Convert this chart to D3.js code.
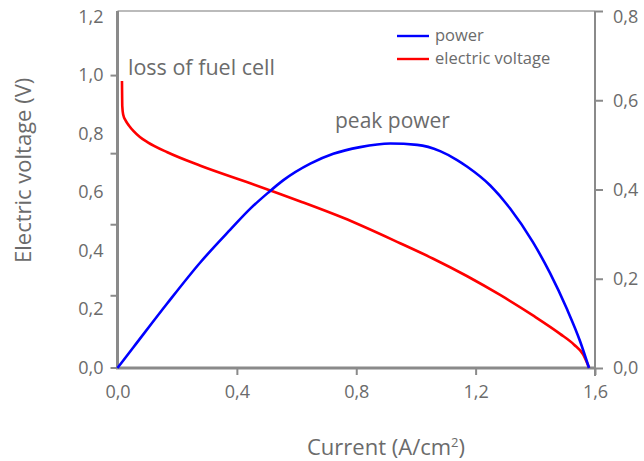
<!DOCTYPE html>
<html>
<head>
<meta charset="utf-8">
<script src="https://cdn.jsdelivr.net/npm/d3@7"></script>
<style>
  body { margin: 0; background: #fff; }
  text { font-family: "Open Sans", sans-serif; fill: #6b6b6b; }
</style>
</head>
<body>
<script>
// current density (A/cm2) and cell voltage (V)
var voltCurrent = [0.015, 0.0155, 0.016, 0.019, 0.027, 0.040, 0.054, 0.075, 0.100, 0.167, 0.278, 0.445, 0.505, 0.613, 0.756, 0.947, 1.058, 1.172, 1.282, 1.392, 1.483, 1.530, 1.560, 1.580];
var voltage     = [0.98, 0.93, 0.894, 0.865, 0.845, 0.825, 0.808, 0.788, 0.771, 0.736, 0.690, 0.630, 0.608, 0.568, 0.512, 0.425, 0.372, 0.312, 0.248, 0.178, 0.115, 0.078, 0.045, 0.0];

// current density (A/cm2) and power density (W/cm2)
var powCurrent = [0, 0.054, 0.167, 0.278, 0.378, 0.445, 0.505, 0.556, 0.646, 0.723, 0.813, 0.914, 1.004, 1.081, 1.138, 1.172, 1.249, 1.315, 1.392, 1.449, 1.506, 1.550, 1.580];
var power      = [0, 0.047, 0.145, 0.237, 0.310, 0.357, 0.393, 0.421, 0.458, 0.480, 0.495, 0.503, 0.500, 0.486, 0.466, 0.451, 0.409, 0.358, 0.282, 0.213, 0.132, 0.060, 0];

var xTicks = [0, 0.4, 0.8, 1.2, 1.6];
var voltLabels = [0, 0.2, 0.4, 0.6, 0.8, 1.0, 1.2];
var voltMarks = [0, 0.247, 0.49, 0.733, 1.0]; // tick marks on the left axis don't line up with the labels
var powTicks = [0, 0.2, 0.4, 0.6, 0.8];

// no d3-selection-multi in v7, so a tiny stand-in
d3.selection.prototype.attrs = function (o) {
    for (var k in o) { this.attr(k, o[k]); }
    return this;
};

var w = 644, h = 461;
var axisColor = "#8a8a8a";
var comma = function (d) { return d3.format(".1f")(d).replace(".", ","); };

var svg = d3.select("body").append("svg")
    .attr("width", w)
    .attr("height", h);

var x = d3.scaleLinear().domain([0, 1.6]).range([117.5, 595]);
var yV = d3.scaleLinear().domain([0, 1.2]).range([367.5, 16.6]);
var yP = d3.scaleLinear().domain([0, 0.8]).range([368, 11]);

// top frame line
svg.append("line")
    .attrs({ x1: 117.5, x2: 595, y1: 11, y2: 11, stroke: "#a5a5a5", "stroke-width": 1.5 });

// left axis: tick marks
var leftMarks = svg.append("g")
    .attr("transform", "translate(117.5,0)")
    .call(d3.axisLeft(yV).tickValues(voltMarks).tickSize(7).tickFormat(""));
leftMarks.select(".domain").remove();
leftMarks.selectAll("line").attr("stroke", axisColor).attr("stroke-width", 2);
svg.append("line")
    .attrs({ x1: 117.5, x2: 117.5, y1: 11, y2: 368, stroke: axisColor, "stroke-width": 3 });

// left axis: labels
var leftLabels = svg.append("g")
    .attr("transform", "translate(117.5,0)")
    .call(d3.axisLeft(yV).tickValues(voltLabels).tickSize(0).tickPadding(14).tickFormat(comma));
leftLabels.select(".domain").remove();
leftLabels.attr("font-family", null).attr("font-size", 18);

// right axis
var right = svg.append("g")
    .attr("transform", "translate(595,0)")
    .call(d3.axisRight(yP).tickValues(powTicks).tickSize(8).tickPadding(10).tickFormat(comma));
right.select(".domain").remove();
right.selectAll("line").attr("stroke", axisColor).attr("stroke-width", 2);
right.attr("font-family", null).attr("font-size", 18);
// top label sits a little lower than its tick
right.selectAll("text").filter(function (d) { return d === 0.8; }).attr("y", 6);
svg.append("line")
    .attrs({ x1: 595, x2: 595, y1: 11, y2: 376, stroke: axisColor, "stroke-width": 2 });

// bottom axis
var bottom = svg.append("g")
    .attr("transform", "translate(0,368)")
    .call(d3.axisBottom(x).tickValues(xTicks).tickSize(7).tickPadding(10).tickFormat(comma));
bottom.select(".domain").remove();
bottom.selectAll("line")
    .attr("stroke", axisColor).attr("stroke-width", 2)
    .attr("opacity", function (d) { return d === 0 ? 0 : 1; });
bottom.attr("font-family", null).attr("font-size", 18);
svg.append("line")
    .attrs({ x1: 116, x2: 596, y1: 368, y2: 368, stroke: axisColor, "stroke-width": 3 });

// curves
var voltLine = d3.line()
    .x(function (d, i) { return x(voltCurrent[i]); })
    .y(function (d) { return yV(d); })
    .curve(d3.curveMonotoneX);
var powLine = d3.line()
    .x(function (d, i) { return x(powCurrent[i]); })
    .y(function (d) { return yP(d); })
    .curve(d3.curveMonotoneX);

svg.append("path")
    .datum(voltage)
    .attrs({ d: voltLine, fill: "none", stroke: "#ff0000", "stroke-width": 2.6 });
svg.append("path")
    .datum(power)
    .attrs({ d: powLine, fill: "none", stroke: "#0000ff", "stroke-width": 2.6 });

// annotations
svg.append("text").text("loss of fuel cell")
    .attrs({ x: 128, y: 75, "font-size": 21.5 });
svg.append("text").text("peak power")
    .attrs({ x: 335, y: 128, "font-size": 21 });

// axis titles
svg.append("text").text("Electric voltage (V)")
    .attrs({ transform: "translate(31,263) rotate(-90)", "font-size": 22 });
var xt = svg.append("text")
    .attrs({ x: 307, y: 455, "font-size": 22 });
xt.append("tspan").text("Current (A/cm");
xt.append("tspan").text("2").attrs({ "font-size": 13, dy: -8 });
xt.append("tspan").text(")").attrs({ dy: 8 });

// legend
var legend = [
    { name: "power", color: "#0000ff", y: 36 },
    { name: "electric voltage", color: "#ff0000", y: 59 }
];
var lg = svg.selectAll(".legend")
    .data(legend)
    .enter().append("g")
    .attr("class", "legend");
lg.append("line")
    .attrs({
        x1: 397, x2: 429,
        y1: function (d) { return d.y; }, y2: function (d) { return d.y; },
        stroke: function (d) { return d.color; }, "stroke-width": 2.4
    });
lg.append("text")
    .text(function (d) { return d.name; })
    .attrs({ x: 435, y: function (d) { return d.y + 5; }, "font-size": 16.5 });
</script>
</body>
</html>
